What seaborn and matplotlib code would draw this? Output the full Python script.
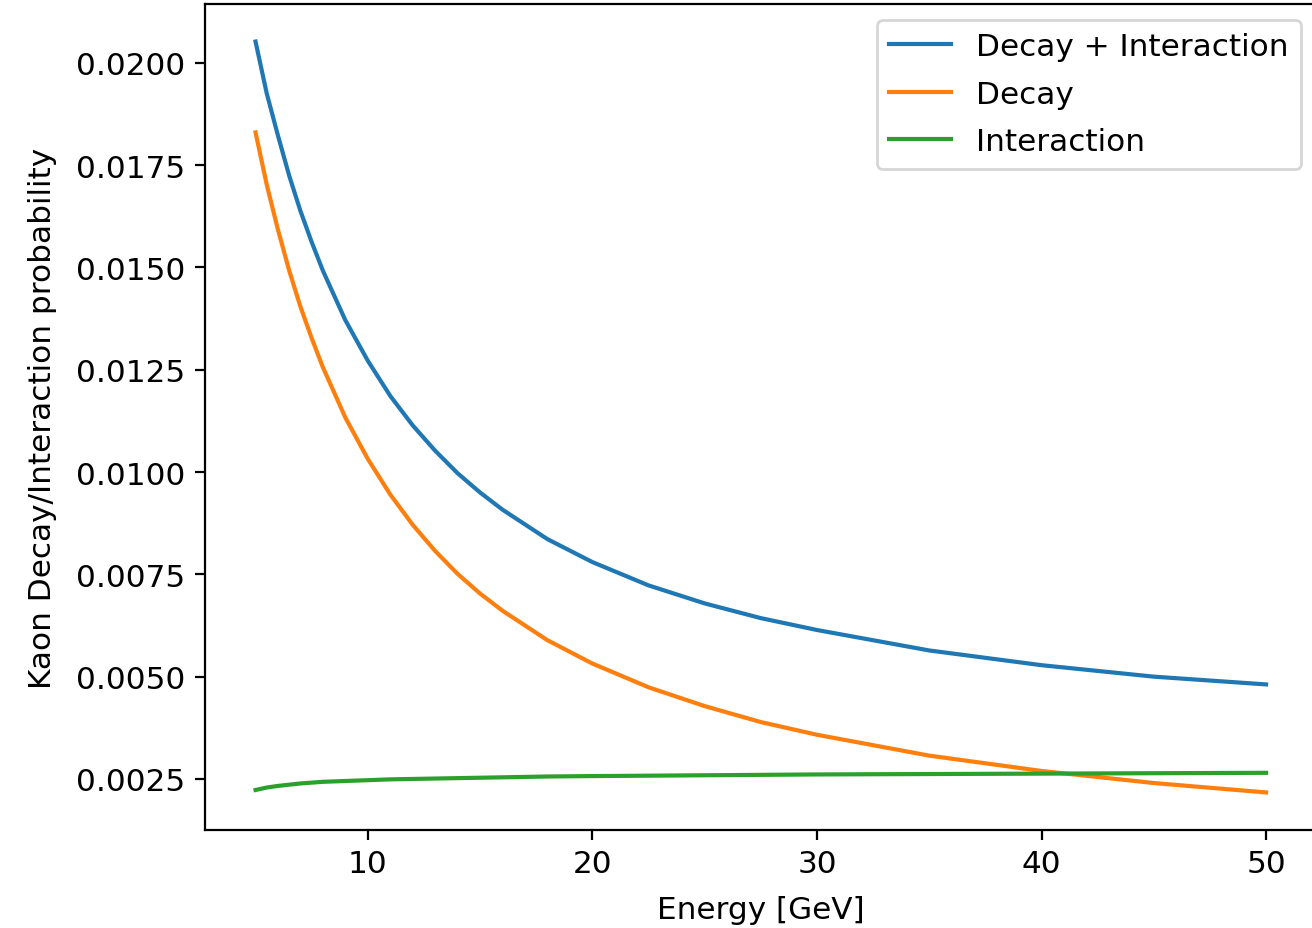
import pandas as pd
import matplotlib
matplotlib.use('Agg')
import matplotlib.pyplot as plt
import seaborn as sns

# values
energy = [5, 5.5, 6, 6.5, 7, 7.5, 8, 9, 10, 11, 12, 13, 14, 15, 16, 18, 20,
          22.5, 25, 27.5, 30, 35, 40, 45, 50]
total = [0.02052, 0.01925, 0.01822, 0.01724, 0.01638, 0.01562, 0.01492,
         0.01371, 0.01272, 0.01186, 0.01114, 0.01052, 0.00997, 0.00950,
         0.00908, 0.00836, 0.00780, 0.00723, 0.00679, 0.00643, 0.00614,
         0.00564, 0.00528, 0.00500, 0.00481]
decay = [0.0183, 0.01702, 0.01592, 0.01492, 0.01404, 0.01327, 0.01256,
         0.01133, 0.01032, 0.00945, 0.00871, 0.00807, 0.00751, 0.00703,
         0.00661, 0.00589, 0.00532, 0.00474, 0.00428, 0.00389, 0.00358,
         0.00307, 0.002695, 0.0024, 0.00217]
interaction = [0.00223, 0.00229, 0.00233, 0.00236, 0.00239, 0.00241, 0.00243,
               0.00245, 0.00247, 0.00249, 0.0025, 0.00251, 0.00252, 0.00253,
               0.00254, 0.00256, 0.00257, 0.00258, 0.00259, 0.0026, 0.00261,
               0.00262, 0.00263, 0.00264, 0.00265]

labels = ['Decay + Interaction', 'Decay', 'Interaction']
series = [total, decay, interaction]
colors = ['#1f77b4', '#ff7f0e', '#2ca02c']

plt.rcParams['font.size'] = 11.2

fig = plt.figure(figsize=(6.56, 4.645), dpi=200)
ax = fig.add_axes([205 / 1312, 98 / 929, 1111.6 / 1312, 826 / 929])

for lab, vals, col in zip(labels, series, colors):
    df = pd.DataFrame({'E': energy, 'p': vals})
    sns.lineplot(data=df, x='E', y='p', ax=ax, color=col, label=lab, linewidth=1.5)

ax.set_xlabel('Energy [GeV]', labelpad=6)
ax.set_ylabel('Kaon Decay/Interaction probability', labelpad=7)
ax.set_xticks([10, 20, 30, 40, 50])
ax.set_yticks([0.0025, 0.0050, 0.0075, 0.0100, 0.0125, 0.0150, 0.0175, 0.0200])
ax.yaxis.set_major_formatter(matplotlib.ticker.FormatStrFormatter('%.4f'))
ax.legend(loc='upper right', labelspacing=0.6)

fig.savefig('out.png', dpi=200)
